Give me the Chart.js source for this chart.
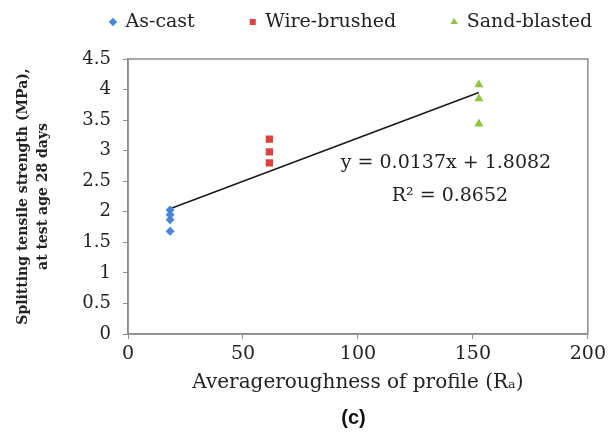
<!DOCTYPE html>
<html>
<head>
<meta charset="utf-8">
<script src="https://cdn.jsdelivr.net/npm/chart.js@4/dist/chart.umd.min.js"></script>
<style>
  html, body { margin: 0; padding: 0; background: #fff; }
  #wrap { width: 610px; height: 446px; }
</style>
</head>
<body>
<div id="wrap"><canvas id="chart-roughness" width="610" height="446"></canvas></div>
<script>
// values
var asCastX = [18.3, 18.3, 18.3, 18.3];
var asCastY = [2.03, 1.95, 1.87, 1.68];
var wireX = [61.5, 61.5, 61.5];
var wireY = [3.19, 2.98, 2.80];
var sandX = [152.6, 152.6, 152.6];
var sandY = [4.08, 3.85, 3.44];
// trendline end points as drawn in the figure
var trendX = [18.3, 152.6];
var trendY = [2.05, 3.95];

var xTicks = [0, 50, 100, 150, 200];
var yTicks = [0, 0.5, 1, 1.5, 2, 2.5, 3, 3.5, 4, 4.5];
var equationLines = ['y = 0.0137x + 1.8082', 'R\u00b2 = 0.8652'];

function toPoints(xs, ys) {
    return ys.map((y, i) => ({ x: xs[i], y: y }));
}

var serif = "'DejaVu Serif', 'Liberation Serif', serif";

// frame round the plot area, the equation text, and nudges for legend / caption
var framePlugin = {
    id: 'frame',
    afterLayout(chart) {
        if (chart.legend) {
            chart.legend.left += 55;
            chart.legend.right += 55;
            chart.legend.top -= 17.5;
            chart.legend.bottom -= 17.5;
        }
        if (chart.titleBlock) {
            chart.titleBlock.left += 55;
            chart.titleBlock.right += 55;
        }
    },
    afterDatasetsDraw(chart) {
        var ctx = chart.ctx;
        var a = chart.chartArea;
        ctx.save();
        ctx.strokeStyle = '#8c8c8c';
        ctx.lineWidth = 1.5;
        ctx.strokeRect(a.left, a.top, a.right - a.left, a.bottom - a.top);

        var xs = chart.scales.x, ys = chart.scales.y;
        ctx.fillStyle = '#222';
        ctx.font = '19px ' + serif;
        ctx.textAlign = 'center';
        ctx.textBaseline = 'middle';
        ctx.fillText(equationLines[0], xs.getPixelForValue(138.3), ys.getPixelForValue(2.79));
        ctx.fillText(equationLines[1], xs.getPixelForValue(140), ys.getPixelForValue(2.26));
        ctx.restore();
    }
};

var ctx = document.getElementById('chart-roughness');
new Chart(ctx, {
    type: 'scatter',
    data: {
        datasets: [
            {
                label: 'As-cast',
                data: toPoints(asCastX, asCastY),
                pointStyle: 'rectRot',
                pointRadius: 4.5,
                backgroundColor: '#4a86d6',
                borderColor: '#4a86d6',
                borderWidth: 0
            },
            {
                label: 'Wire-brushed',
                data: toPoints(wireX, wireY),
                pointStyle: 'rect',
                pointRadius: 5.2,
                backgroundColor: '#e0403c',
                borderColor: '#e0403c',
                borderWidth: 0
            },
            {
                label: 'Sand-blasted',
                data: toPoints(sandX, sandY),
                pointStyle: 'triangle',
                pointRadius: 5.2,
                backgroundColor: '#8fc53e',
                borderColor: '#8fc53e',
                borderWidth: 0
            },
            {
                label: 'trend',
                data: toPoints(trendX, trendY),
                showLine: true,
                pointRadius: 0,
                borderColor: '#1a1a1a',
                borderWidth: 1.6,
                fill: false
            }
        ]
    },
    options: {
        responsive: false,
        animation: false,
        layout: { padding: { left: 0, right: 13, top: -25, bottom: 0 } },
        plugins: {
            legend: {
                position: 'top',
                align: 'start',
                labels: {
                    usePointStyle: true,
                    boxWidth: 6,
                    boxHeight: 6,
                    padding: 55,
                    color: '#222',
                    font: { family: serif, size: 19 },
                    filter: item => item.text !== 'trend'
                }
            },
            title: {
                display: true,
                position: 'bottom',
                text: '(c)',
                color: '#111',
                font: { family: "'Liberation Sans', Arial, sans-serif", size: 20, weight: 'bold' },
                padding: { top: 0, bottom: 16 }
            },
            tooltip: { enabled: false }
        },
        scales: {
            x: {
                type: 'linear',
                min: 0,
                max: 200,
                afterBuildTicks: s => { s.ticks = xTicks.map(v => ({ value: v })); },
                afterFit: s => { s.height = 72; },
                grid: { drawOnChartArea: false, drawTicks: true, tickLength: 5, color: '#8c8c8c' },
                border: { color: '#8c8c8c', width: 1.5 },
                ticks: { color: '#222', font: { family: serif, size: 19 }, padding: 4 },
                title: {
                    display: true,
                    text: 'Averageroughness of profile (R\u2090)',
                    color: '#222',
                    font: { family: serif, size: 20 },
                    padding: { top: 0, bottom: 11 }
                }
            },
            y: {
                type: 'linear',
                min: 0,
                max: 4.5,
                afterBuildTicks: s => { s.ticks = yTicks.map(v => ({ value: v })); },
                afterFit: s => { s.width = 128; },
                grid: { drawOnChartArea: false, drawTicks: true, tickLength: 5, color: '#8c8c8c' },
                border: { color: '#8c8c8c', width: 1.5 },
                ticks: {
                    color: '#222',
                    font: { family: serif, size: 18 },
                    padding: 12,
                    callback: v => String(v)
                },
                title: {
                    display: true,
                    text: ['Splitting tensile strength (MPa),', 'at test age 28 days'],
                    color: '#222',
                    font: { family: serif, size: 14, weight: 'bold', lineHeight: 1.45 },
                    padding: { top: 13, bottom: 0 }
                }
            }
        }
    },
    plugins: [framePlugin]
});
</script>
</body>
</html>
